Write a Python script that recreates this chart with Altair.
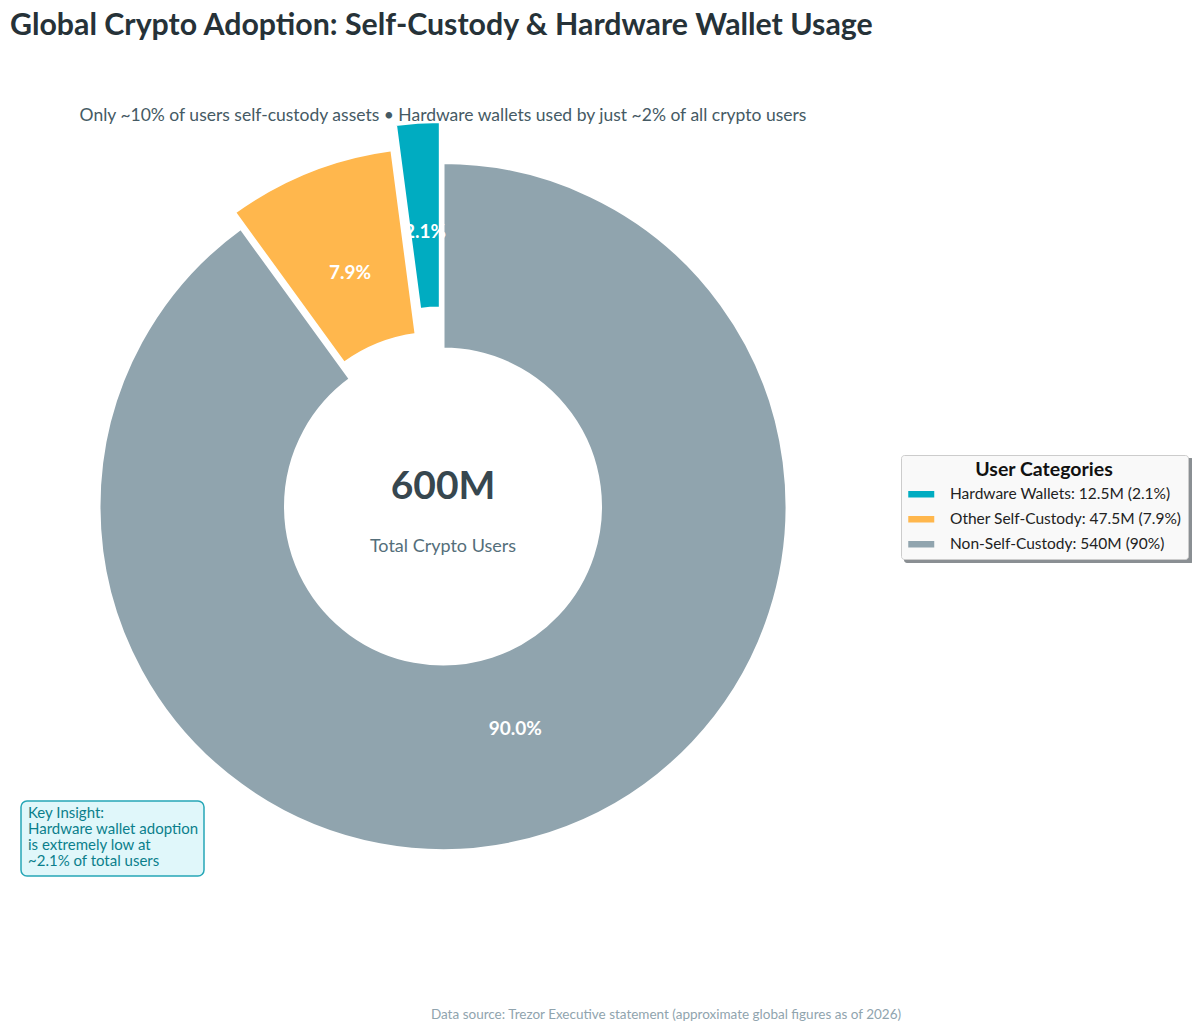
import altair as alt
import pandas as pd

# ---- data ----
categories = ["Hardware Wallets", "Other Self-Custody", "Non-Self-Custody"]
users_m = [12.5, 47.5, 540]
legend_values = ["12.5M", "47.5M", "540M"]
legend_pcts = ["2.1%", "7.9%", "90%"]
draw_order = [2, 1, 0]  # Non-Self-Custody drawn first from 12 o'clock
colors = ["#00acc1", "#ffb74d", "#90a4ae"]

title_text = "Global Crypto Adoption: Self-Custody & Hardware Wallet Usage"
subtitle_text = "Only ~10% of users self-custody assets \u2022 Hardware wallets used by just ~2% of all crypto users"
center_value = "600M"
center_label = "Total Crypto Users"
insight_lines = ["Key Insight:", "Hardware wallet adoption", "is extremely low at", "~2.1% of total users"]
footer_text = "Data source: Trezor Executive statement (approximate global figures as of 2026)"

legend_labels = [f"{c}: {v} ({p})" for c, v, p in zip(categories, legend_values, legend_pcts)]

df = pd.DataFrame({
    "category": categories,
    "users": users_m,
    "label": legend_labels,
    "ord": draw_order,
})

FONT = "Lato"
CX, CY = 435, 498.5
R_OUT, R_IN = 344, 157.5
R_LABEL = 234
explode_expr = "datum.category === 'Hardware Wallets' ? 41 : (datum.category === 'Other Self-Custody' ? 17 : 0)"

base = alt.Chart(df).transform_window(
    cum="sum(users)", sort=[alt.SortField("ord")], frame=[None, 0]
).transform_joinaggregate(
    total="sum(users)"
).transform_calculate(
    pct="datum.users / datum.total",
    mid="(datum.cum - datum.users / 2) / datum.total * 2 * PI",
    ex=explode_expr,
).transform_calculate(
    px=f"{CX} + datum.ex * sin(datum.mid)",
    py=f"{CY} - datum.ex * cos(datum.mid)",
)

color_enc = alt.Color(
    "label:N",
    scale=alt.Scale(domain=legend_labels, range=colors),
    legend=alt.Legend(
        title="User Categories",
        orient="none",
        legendX=893,
        legendY=447,
        symbolType="M-2,-0.5H2V0.5H-2Z",
        symbolStrokeWidth=0,
        symbolSize=169,
        symbolOffset=6.5,
        labelOffset=21,
        rowPadding=8,
        titlePadding=6,
    ),
)

arcs = base.mark_arc(
    outerRadius=R_OUT, innerRadius=R_IN, stroke="white", strokeWidth=3
).encode(
    theta=alt.Theta("users:Q", stack=True),
    order=alt.Order("ord:Q"),
    color=color_enc,
    x=alt.X("px:Q", scale=None, axis=None),
    y=alt.Y("py:Q", scale=None, axis=None),
)

labels = base.mark_text(
    radius=R_LABEL, font=FONT, fontSize=19, fontWeight="bold", color="white"
).encode(
    theta=alt.Theta("users:Q", stack=True),
    order=alt.Order("ord:Q"),
    text=alt.Text("pct:Q", format=".1%"),
    x=alt.X("px:Q", scale=None, axis=None),
    y=alt.Y("py:Q", scale=None, axis=None),
)

one = alt.Data(values=[{"k": 1}])


def txt(value, x, y, size, color, weight="normal", align="center", baseline="middle", **kw):
    return alt.Chart(one).mark_text(
        font=FONT, fontSize=size, color=color, fontWeight=weight,
        align=align, baseline=baseline, **kw
    ).encode(x=alt.value(x), y=alt.value(y), text=alt.value(value))


title = txt(title_text, 2, 18, 30.3, "#263238", weight="bold", align="left")
subtitle = txt(subtitle_text, 435, 108, 17.5, "#455a64")
center_big = txt(center_value, CX, 479, 39, "#37474f", weight="bold")
center_small = txt(center_label, CX, 539, 18, "#546e7a")
footer = txt(footer_text, 658, 1007, 13.5, "#90a4ae")

box = alt.Chart(one).mark_rect(
    cornerRadius=6, fill="#e0f7fa", stroke="#26a7b7", strokeWidth=1.5
).encode(x=alt.value(13), x2=alt.value(196), y=alt.value(793), y2=alt.value(868))
insight = txt(insight_lines, 20, 798, 15, "#0b7f8c", align="left", baseline="top", lineHeight=16)

legend_shadow = alt.Chart(one).mark_rect(
    cornerRadius=3, fill="#8a8f93"
).encode(x=alt.value(896), x2=alt.value(1186), y=alt.value(450), y2=alt.value(555))

chart = alt.layer(
    legend_shadow, arcs, labels, subtitle, title, center_big, center_small, box, insight, footer
).properties(
    width=1184, height=1017, autosize=alt.AutoSizeParams(type="none"), padding=0
).configure_view(
    stroke=None
).configure_legend(
    fillColor="#f9f9f9",
    strokeColor="#cccccc",
    cornerRadius=3,
    padding=6,
    titleFont=FONT,
    titleFontSize=19.5,
    titleFontWeight="bold",
    titleColor="#111111",
    titleAnchor="middle",
    labelFont=FONT,
    labelFontSize=15.5,
    labelColor="#222222",
    labelLimit=400,
)

chart.save("out.html", embed_options={"renderer": "svg", "actions": False})
